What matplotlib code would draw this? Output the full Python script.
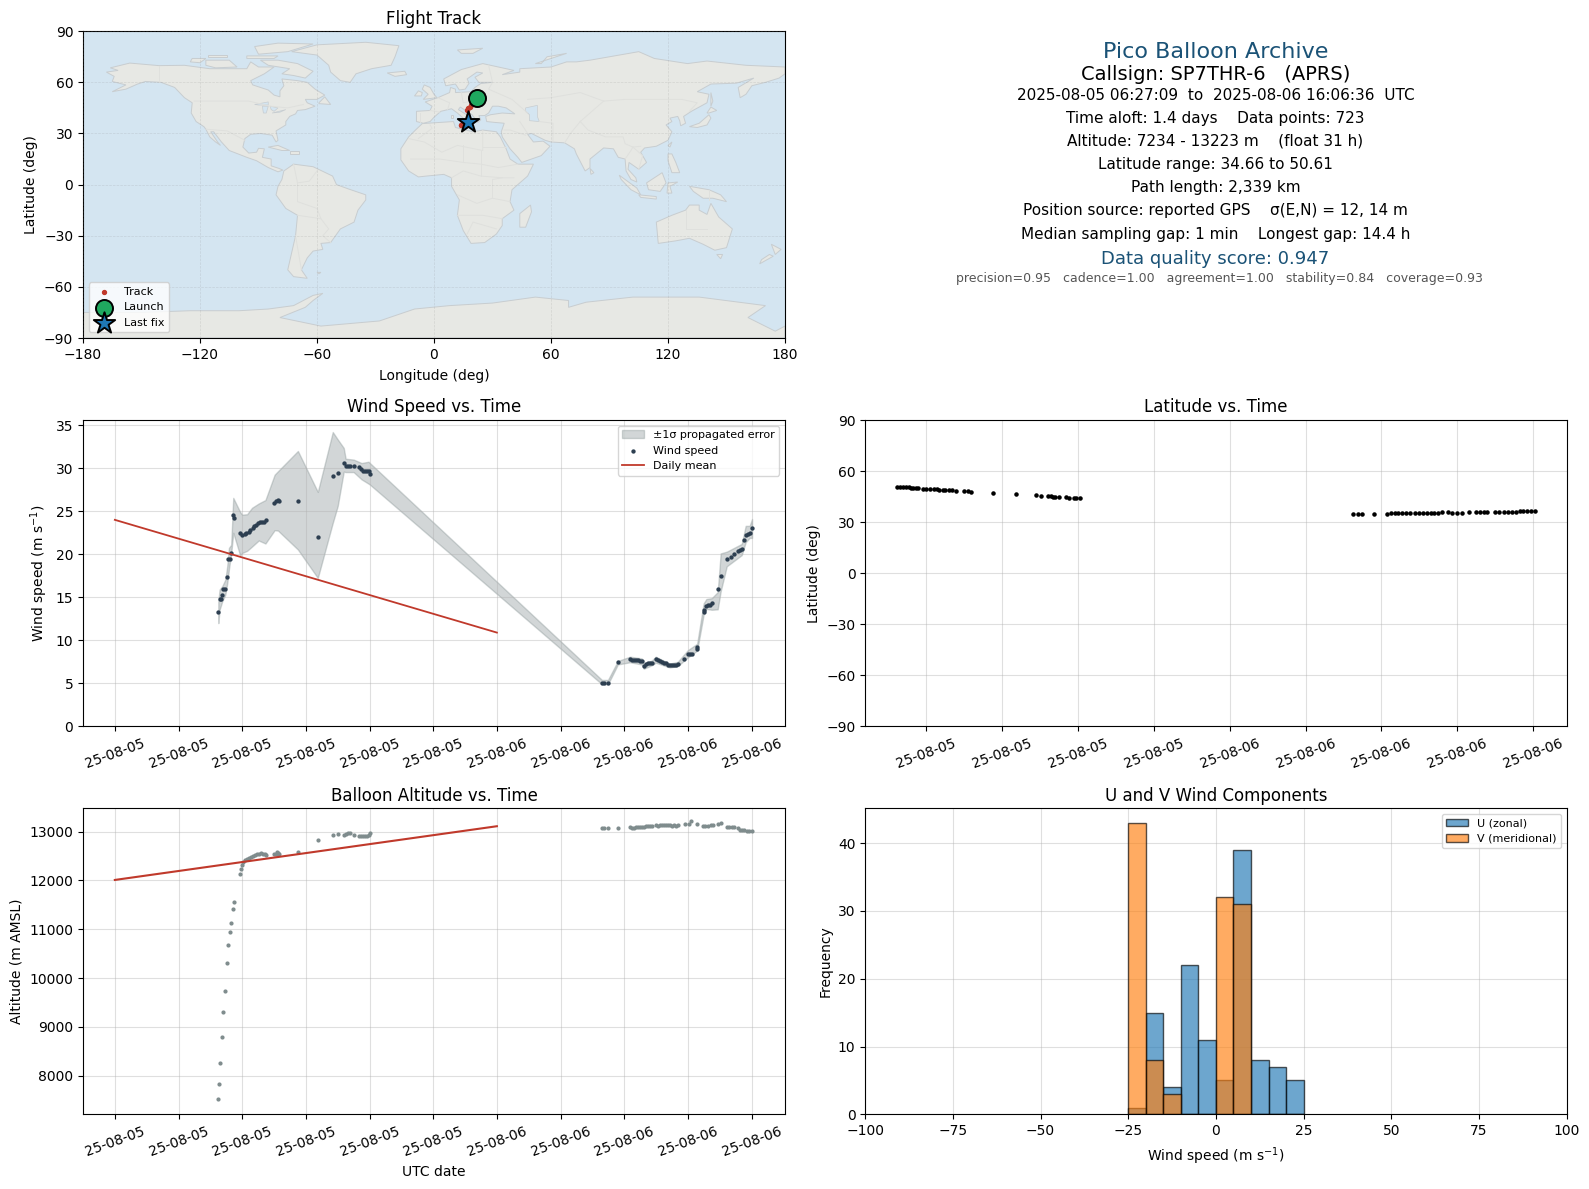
import datetime as dt
import matplotlib
matplotlib.use("Agg")
import matplotlib.pyplot as plt
import matplotlib.dates as mdates
import numpy as np

W, H = 1589, 1189
START = mdates.date2num(dt.datetime(2025, 8, 5))

# wind speed, hours after 2025-08-05 00:00 UTC
wind_hours = [6.5, 6.58, 6.65, 6.75, 6.81, 6.94, 7.06, 7.12, 7.25, 7.31, 7.44, 7.5, 7.875, 8.0, 8.15, 8.27, 8.42,
              8.52, 8.65, 8.77, 8.88, 9.0, 9.12, 9.25, 9.37, 9.5, 10.0, 10.12, 10.25, 10.33, 11.5, 12.75, 13.69,
              14.0, 14.38, 14.5, 14.62, 14.75, 15.0, 15.31, 15.44, 15.56, 15.69, 15.81, 15.94, 16.02,
              30.6, 30.73, 30.98, 31.6, 32.36, 32.48, 32.6, 32.73, 32.86, 32.98, 33.1, 33.23, 33.36, 33.48, 33.6,
              33.73, 33.98, 34.1, 34.24, 34.36, 34.49, 34.6, 34.74, 34.86, 34.99, 35.11, 35.24, 35.36, 35.74,
              35.99, 36.12, 36.24, 36.56, 36.58, 36.99, 37.02, 37.16, 37.29, 37.41, 37.5, 37.87, 38.06, 38.44,
              38.69, 38.88, 39.13, 39.25, 39.38, 39.5, 39.63, 39.75, 39.88, 40.03]
wind_speed = [13.3, 14.8, 14.8, 15.3, 16.0, 16.0, 17.4, 19.45, 19.45, 20.15, 24.6, 24.2, 22.45, 22.25, 22.4, 22.5,
              22.55, 22.8, 23.05, 23.25, 23.45, 23.65, 23.75, 23.75, 23.75, 24.0, 25.97, 26.15, 26.25, 26.2, 26.2,
              22.0, 29.1, 29.45, 30.6, 30.3, 30.27, 30.27, 30.27, 30.15, 29.95, 29.7, 29.65, 29.65, 29.65, 29.35,
              5.1, 5.1, 5.1, 7.45, 7.8, 7.7, 7.68, 7.68, 7.68, 7.65, 7.57, 7.05, 7.2, 7.33, 7.33, 7.4, 7.8, 7.72,
              7.65, 7.52, 7.4, 7.33, 7.17, 7.1, 7.1, 7.1, 7.17, 7.25, 7.8, 8.4, 8.45, 8.45, 8.95, 9.27, 13.3, 13.55,
              14.0, 14.05, 14.1, 14.3, 15.95, 17.45, 19.45, 19.65, 20.05, 20.4, 20.5, 20.6, 21.6, 22.25, 22.4, 22.45,
              23.05]
band_hours = [6.5, 6.58, 6.75, 6.94, 7.06, 7.17, 7.31, 7.44, 7.875, 8.0, 8.31, 8.62, 9.04, 9.46, 10.04, 10.25, 11.5,
              12.75, 13.69, 14.0, 14.38, 14.5, 15.0, 15.5, 15.94, 16.02, 30.6, 30.98, 31.6, 32.36, 33.1, 33.23,
              33.73, 33.98, 34.86, 35.36, 35.99, 36.58, 36.99, 37.16, 37.5, 37.87, 38.06, 38.44, 39.38, 39.63,
              39.88, 40.03]
band_hi = [14.5, 15.9, 16.3, 17.05, 18.6, 20.75, 21.1, 26.55, 24.9, 24.6, 24.65, 25.4, 25.9, 26.3, 29.25, 29.65, 32.0,
           27.25, 34.2, 33.35, 32.35, 31.1, 31.0, 30.6, 30.75, 30.6, 5.4, 5.4, 7.6, 8.1, 7.9, 7.3, 7.65, 8.1, 7.3,
           7.5, 8.85, 9.6, 14.3, 14.8, 14.9, 15.6, 20.1, 20.3, 21.2, 23.3, 23.3, 24.1]
band_lo = [12.0, 13.55, 14.55, 15.3, 16.6, 18.3, 20.1, 22.5, 19.85, 20.15, 20.4, 20.9, 21.6, 21.25, 22.8, 22.75, 20.55,
           17.25, 23.65, 25.6, 29.6, 29.55, 29.55, 28.7, 28.2, 28.1, 4.9, 4.9, 7.2, 7.45, 7.2, 6.7, 7.1, 7.4, 6.85,
           7.0, 8.0, 8.8, 13.0, 13.65, 13.55, 13.6, 15.7, 18.6, 19.9, 21.4, 21.9, 21.9]
mean_hours = [0, 24]
wind_mean = [24.0, 10.9]
alt_mean = [12010, 13110]

alt_hours = [6.5, 6.56, 6.62, 6.75, 6.81, 6.94, 7.06, 7.12, 7.25, 7.31, 7.44, 7.5, 7.875, 7.94, 8.0, 8.06, 8.19,
             8.31, 8.44, 8.56, 8.69, 8.81, 8.94, 9.06, 9.19, 9.31, 9.44, 9.5, 10.0, 10.12, 10.19, 10.25, 10.33,
             11.5, 12.75, 13.69, 14.0, 14.38, 14.5, 14.62, 14.75, 15.0, 15.31, 15.44, 15.56, 15.69, 15.81, 15.94,
             16.02, 30.6, 30.73, 30.98, 31.6, 32.36, 32.48, 32.6, 32.73, 32.86, 32.98, 33.1, 33.23, 33.36, 33.48,
             33.6, 33.73, 33.98, 34.1, 34.24, 34.36, 34.49, 34.6, 34.74, 34.86, 34.99, 35.11, 35.24, 35.36, 35.81,
             36.04, 36.2, 36.56, 36.92, 37.08, 37.25, 37.42, 37.6, 37.92, 38.08, 38.44, 38.58, 38.75, 38.92, 39.13,
             39.25, 39.38, 39.54, 39.69, 39.85, 40.03]
altitude = [7529, 7836, 8266, 8800, 9311, 9742, 10316, 10684, 10951, 11135, 11422, 11566, 12139, 12242, 12317, 12372,
            12413, 12440, 12460, 12481, 12501, 12522, 12542, 12549, 12556, 12549, 12536, 12522, 12542, 12549, 12590,
            12563, 12536, 12577, 12836, 12939, 12959, 12939, 12959, 12966, 12966, 12939, 12918, 12918, 12918, 12918,
            12918, 12939, 12966, 13082, 13082, 13082, 13082, 13095, 13075, 13080, 13085, 13090, 13095, 13100, 13095,
            13105, 13110, 13105, 13110, 13125, 13120, 13125, 13135, 13125, 13140, 13135, 13125, 13120, 13125, 13120,
            13125, 13160, 13157, 13219, 13150, 13123, 13123, 13123, 13130, 13130, 13157, 13178, 13102, 13102, 13102,
            13095, 13075, 13040, 13027, 13040, 13020, 13020, 13014]

lat_hours = [6.47, 6.6, 6.75, 6.9, 7.09, 7.18, 7.3, 7.45, 7.56, 7.84, 8.0, 8.2, 8.4, 8.58, 8.67, 8.85, 9.0, 9.2, 9.35,
             9.54, 9.98, 10.19, 10.37, 11.5, 12.75, 13.77, 14.03, 14.4, 14.55, 14.7, 14.8, 15.0, 15.35, 15.5, 15.77,
             15.9, 16.1,
             30.5, 30.75, 31.0, 31.6, 32.3, 32.5, 32.7, 32.9, 33.1, 33.3, 33.5, 33.8, 34.0, 34.2, 34.4, 34.6, 34.8,
             35.0, 35.2, 35.5, 35.75, 36.0, 36.25, 36.6, 37.0, 37.2, 37.4, 37.6, 38.0, 38.2, 38.45, 38.7, 38.9, 39.1,
             39.3, 39.5, 39.7, 39.9, 40.1]
latitude = [50.6, 50.6, 50.6, 50.5, 50.4, 50.0, 50.0, 50.0, 50.0, 49.4, 49.4, 49.4, 49.3, 49.2, 48.7, 48.7, 48.6,
            48.6, 48.6, 48.4, 48.2, 48.2, 47.5, 47.1, 46.5, 45.9, 45.3, 45.1, 45.1, 45.0, 44.7, 44.5, 44.7, 44.3,
            44.1, 44.1, 44.0,
            34.9, 34.9, 34.9, 34.9, 34.9, 35.1, 35.2, 35.3, 35.3, 35.4, 35.4, 35.6, 35.6, 35.6, 35.6, 35.6, 35.6,
            35.6, 35.7, 35.7, 35.6, 35.6, 35.5, 36.1, 35.9, 35.9, 35.9, 35.9, 35.9, 35.9, 35.9, 36.1, 36.2, 36.2,
            36.3, 36.5, 36.6, 36.6, 36.6]

track_lon = [22.3, 21.5, 20.6, 19.8, 19.0, 18.3, 17.6, 17.0, 13.8, 13.9, 14.2, 14.6, 15.0, 15.6, 16.2, 16.8, 17.3]
track_lat = [50.6, 49.4, 48.6, 47.5, 46.5, 45.6, 44.7, 44.0, 34.7, 34.9, 35.1, 35.4, 35.6, 35.7, 36.0, 36.3, 36.6]
launch_pos = (22.3, 50.6)
last_fix_pos = (17.3, 36.6)

bin_edges = [-25, -20, -15, -10, -5, 0, 5, 10, 15, 20, 25]
u_counts = [1, 15, 4, 22, 11, 5, 39, 8, 7, 5]
v_counts = [43, 8, 3, 0, 0, 32, 31, 0, 0, 0]

# coarse coastlines, lon/lat
NORTH_AMERICA = [(-168, 66), (-162, 67), (-166, 68.5), (-156, 71.3), (-141, 69.8), (-128, 70), (-115, 68), (-108, 68),
                 (-96, 68), (-94, 72), (-90, 69), (-82, 69), (-87, 65), (-94, 61), (-93, 58.5), (-85, 55.5),
                 (-82, 52.5), (-79, 51.5), (-79, 55), (-77, 58), (-78, 62), (-70, 61), (-65, 60), (-61, 56),
                 (-56, 52.5), (-60, 50), (-66, 50), (-65, 48), (-61, 46), (-66, 44), (-70, 43.5), (-71, 41.5),
                 (-74, 40), (-76, 37), (-76, 35), (-81, 31.5), (-80, 26), (-81, 25), (-83, 29), (-89, 30),
                 (-94, 29.5), (-97, 27), (-98, 22), (-95, 18.5), (-91, 19), (-90, 21.3), (-87, 21), (-88, 16),
                 (-83.5, 15), (-83.5, 11), (-79.5, 9.5), (-77.5, 8.5), (-80, 7.5), (-85, 10), (-91, 14), (-96, 16),
                 (-105, 20), (-109, 25), (-113, 31), (-114.5, 31), (-111, 25), (-109.5, 23), (-112, 25), (-115, 28),
                 (-117, 32.5), (-118, 34), (-122, 37), (-124.5, 42), (-124, 48), (-128, 51), (-133, 57), (-140, 60),
                 (-148, 60.5), (-152, 59), (-158, 56), (-165, 54.5), (-158, 58.5), (-165, 60.5), (-164, 63.5)]
GREENLAND = [(-73, 78), (-60, 82), (-35, 83.5), (-18, 81.5), (-20, 75), (-22, 70), (-32, 68), (-40, 65), (-43, 60),
             (-48, 61), (-53, 66), (-54, 70), (-60, 76)]
SOUTH_AMERICA = [(-77, 8), (-72, 12), (-62, 10.5), (-52, 5), (-50, 0), (-44, -2.5), (-35, -6), (-35, -9), (-39, -15),
                 (-41, -22), (-48, -26), (-53, -34), (-58, -34.5), (-57, -38), (-62, -39), (-65, -43), (-68, -50),
                 (-65, -55), (-72, -54), (-75, -50), (-73, -40), (-71, -30), (-70, -18), (-76, -14), (-81, -6),
                 (-80, -1), (-78, 3)]
AFRICA = [(-6, 35.8), (10, 37), (11, 33.5), (20, 31), (25, 32), (32, 31), (34, 28), (37, 21), (39, 15), (43, 12),
          (51, 12), (48, 5), (40, -3), (39, -10), (41, -15), (35, -20), (35, -24), (32, -29), (26, -34), (19, -34.5),
          (15, -27), (12, -18), (13, -9), (9, -1), (9, 4), (5, 6), (-4, 5), (-8, 4.5), (-13, 8), (-17, 14.5),
          (-17, 21), (-13, 28), (-9.5, 32)]
EURASIA = [(-9, 37), (-9, 43), (-2, 43.5), (-1, 46), (-4.5, 48.5), (2, 51), (8, 54), (8.5, 57), (11, 56), (11, 54),
           (19, 54.5), (21, 57), (24, 59.3), (30, 60), (23, 60), (21, 63), (25, 65.5), (22, 66), (17, 62), (18, 59.5),
           (16, 56), (13, 55.5), (11, 59), (6, 58), (5, 62), (14, 67.5), (25, 71), (41, 67), (35, 64.5), (44, 66),
           (44, 68), (60, 69), (68, 72), (73, 72), (80, 73), (105, 78), (113, 74), (130, 71), (140, 72.5), (160, 70),
           (180, 69), (180, 65), (177, 62.5), (170, 60), (163, 58), (160, 53), (157, 51), (156, 57), (164, 62.5),
           (155, 59.5), (142, 59), (135, 54.5), (141, 53), (140, 48), (132, 43), (128, 40), (129, 36), (126.5, 34.5),
           (126, 37.5), (125, 40), (121, 39), (122, 37), (119, 35), (122, 31), (120, 26), (114, 22.5), (108, 21.5),
           (106, 19), (109, 13), (105, 9), (100, 13), (99.5, 9), (103.5, 4), (104, 1.5), (101, 3), (98.5, 8), (98, 15),
           (94.5, 16), (92, 21), (87, 21.5), (80, 15), (80, 10), (77.5, 8), (73, 18), (72, 21), (67, 24.5), (60, 25),
           (57, 26), (50, 30), (48, 29.5), (51, 25), (56, 25.5), (59.5, 22.5), (55, 17), (45, 13), (43, 16), (39, 21),
           (35, 28), (34.5, 31), (36, 36), (31, 36.5), (27, 37), (26.5, 40), (29, 41), (35, 42), (41.5, 41.5), (37, 45),
           (33, 46), (30, 46), (28, 42), (26, 40.5), (23, 40.5), (24, 38), (22.5, 36.5), (19.5, 41), (13.5, 45.5),
           (12.5, 44), (16, 41.5), (18.5, 40), (16, 38), (12, 42), (9, 44.5), (3.5, 43), (0, 39.5), (-2, 37), (-5.5, 36)]
AUSTRALIA = [(114, -22), (122, -18), (129, -15), (131, -12), (136, -12), (136, -15), (140, -17.5), (142, -11),
             (146, -19), (153, -26), (150, -37), (144, -38.5), (138, -35), (131, -31.5), (124, -33), (115, -34.5)]
ANTARCTICA = [(-180, -90), (-180, -75), (-150, -75), (-125, -74), (-100, -74), (-85, -73), (-72, -71), (-62, -65),
              (-57, -63.8), (-62, -68), (-66, -72), (-79, -78), (-58, -83), (-28, -80), (-10, -73), (8, -71),
              (30, -69.5), (52, -66), (69, -68), (69, -72), (78, -69), (102, -66), (136, -66), (170, -71), (161, -78),
              (175, -86), (180, -83), (180, -90)]
ISLANDS = [
    [(-80, 73), (-70, 71), (-62, 66.5), (-66, 62.5), (-72, 64), (-78, 65), (-74, 68), (-85, 70), (-89, 73)],
    [(-117, 73), (-105, 73), (-101, 69), (-112, 68.5), (-117, 70)],
    [(-124, 74), (-117, 74), (-120, 71.5), (-125, 72)],
    [(-90, 76.5), (-75, 78), (-62, 82.5), (-80, 83), (-92, 81)],
    [(-96, 75.5), (-80, 75.5), (-82, 74), (-96, 74)],
    [(-116, 76), (-106, 76), (-106, 75), (-116, 75)],
    [(-59, 48), (-56, 51.5), (-53, 47), (-59, 47.5)],
    [(-85, 22), (-80, 23), (-74, 20), (-78, 20)],
    [(-74, 19.5), (-69, 19.5), (-69, 18), (-74, 18)],
    [(49.5, -12), (50, -16), (47, -25), (44, -25), (44, -17)],
    [(-5, 58.5), (-2, 57), (0, 53), (1.5, 51), (-5.5, 50), (-3, 53), (-6, 56)],
    [(-10, 52), (-8, 55), (-6, 54), (-6.5, 52)],
    [(-24, 65.5), (-15, 66.5), (-14, 64.5), (-20, 63.5)],
    [(12, 79), (25, 80), (20, 77), (14, 77)],
    [(52, 71), (68, 77), (58, 75), (55, 71)],
    [(142, 54), (143, 49), (142, 46), (142, 50)],
    [(131, 34), (136, 36), (141, 41), (142, 39), (140, 35), (135, 33.5)],
    [(140, 42), (142, 45.5), (145, 43.5), (141, 42)],
    [(120, 23), (122, 25), (121, 22)],
    [(120, 18), (122, 18), (124, 13), (126, 7), (122, 7), (120, 14)],
    [(109, 1), (117, 7), (119, 1), (116, -4), (110, -3)],
    [(95, 5.5), (104, -2), (106, -6), (101, -3), (96, 3)],
    [(105, -6), (114, -7), (114, -8.5), (106, -7.5)],
    [(119.5, -5), (120, 1), (125, 1.5), (121, -1), (122, -5)],
    [(131, -1), (141, -3), (147, -6), (150, -10), (143, -8), (138, -8), (133, -4)],
    [(80, 9.5), (82, 7), (80.5, 6)],
    [(145, -41), (148, -41), (147, -43.5)],
    [(173, -35), (178, -38), (175, -41), (174, -38)],
    [(172, -41), (174, -42), (167, -46.5), (168, -44)],
    [(8.5, 41), (9.5, 41), (9.5, 39), (8.5, 39)],
    [(12.5, 38), (15.5, 38), (15, 36.7)],
    [(-60, -51.5), (-58, -51.5), (-59, -52.3)],
]
INLAND_WATER = [
    [(47, 45), (53, 46.5), (53, 40), (54, 37), (49, 37.5), (49, 41), (47, 43)],
    [(-92, 47), (-85, 48.5), (-85, 46.7), (-90, 46.7)],
    [(-88, 46), (-85, 46), (-86, 42), (-87.5, 42)],
    [(-84, 46), (-80, 45), (-82, 43), (-83.5, 44)],
    [(-83, 42), (-76, 44), (-79, 42.5)],
]
BORDERS = [
    [(-141, 69.8), (-141, 60)], [(-123, 49), (-95, 49), (-84, 46), (-75, 45), (-67, 47)],
    [(-117, 32.5), (-106, 31.5), (-97, 26)], [(-70, -18), (-58, -20), (-54, -26), (-57, -30), (-53, -34)],
    [(-71, -30), (-68, -50)], [(-72, 12), (-70, 1), (-70, -10), (-60, -14), (-58, -20)], [(-60, 8), (-64, 2), (-70, 1)],
    [(-8, 27), (-1, 33), (-2, 35)], [(-13, 27), (-5, 25), (4, 19), (12, 23), (25, 20), (25, 32)], [(25, 22), (37, 22)],
    [(-12, 15), (3, 15), (15, 13), (24, 12), (33, 10), (43, 12)], [(9, 4), (15, 8), (24, 5), (35, 4), (41, 4)],
    [(12, -6), (22, -11), (30, -8), (39, -10)], [(12, -18), (25, -18), (35, -20)], [(17, -29), (20, -22), (32, -26)],
    [(30, -8), (30, 3), (35, 4)], [(15, 23), (15, 13)], [(24, 5), (24, 20)],
    [(28, 70), (30, 60), (28, 56), (40, 50), (48, 42)], [(48, 50), (60, 51), (75, 54), (87, 49), (98, 50), (115, 50),
                                                         (127, 50), (135, 48), (131, 43)],
    [(75, 37), (80, 42), (87, 49)], [(75, 37), (79, 32), (88, 28), (97, 28), (98, 24), (102, 22), (106, 22.5)],
    [(61, 25), (61, 36), (54, 37)], [(44, 37), (48, 30)], [(36, 32), (39, 32), (47, 29)], [(75, 37), (70, 30), (67, 24.5)],
    [(98, 15), (101, 20), (102, 22)], [(105, 9), (107, 17), (102, 22)], [(2, 51), (8, 48), (7, 44)],
    [(14, 54), (15, 48), (20, 49), (24, 51), (24, 54)], [(-2, 43.5), (3, 42.5)], [(-7, 42), (-7, 37)],
    [(140, -26), (129, -26), (129, -15)], [(141, -3), (141, -9)],
]

OCEAN = "#d4e5f1"
LAND = "#e7e8e4"
COAST = "#c8cdd0"
BORDER = "#dfe0dd"
RED = "#c0392b"
NAVY = "#2c3e50"
SLATE = "#7f8c8d"
TITLE_BLUE = "#1a5276"


def add_ax(fig, left, top, right, bottom):
    return fig.add_axes([left / W, 1 - bottom / H, (right - left) / W, (bottom - top) / H])


def to_dates(hours):
    return START + np.array(hours) / 24.0


def time_axis(ax, xlim):
    ax.set_xlim(to_dates(xlim)[0], to_dates(xlim)[1])
    ax.xaxis.set_major_locator(mdates.HourLocator(byhour=range(0, 24, 4)))
    ax.xaxis.set_major_formatter(mdates.DateFormatter("%y-%m-%d"))
    ax.tick_params(axis="x", rotation=20)
    ax.grid(True, color="#b0b0b0", alpha=0.4)


fig = plt.figure(figsize=(W / 100, H / 100), dpi=100)

# map
ax = add_ax(fig, 83.0, 31.2, 785.0, 338.0)
ax.set_facecolor(OCEAN)
for poly in [NORTH_AMERICA, GREENLAND, SOUTH_AMERICA, AFRICA, EURASIA, AUSTRALIA, ANTARCTICA] + ISLANDS:
    xs, ys = zip(*poly)
    ax.fill(xs, ys, facecolor=LAND, edgecolor=COAST, linewidth=0.7, zorder=1)
for poly in INLAND_WATER:
    xs, ys = zip(*poly)
    ax.fill(xs, ys, facecolor=OCEAN, edgecolor=COAST, linewidth=0.5, zorder=1.1)
for line in BORDERS:
    xs, ys = zip(*line)
    ax.plot(xs, ys, color=BORDER, linewidth=0.7, zorder=1.2)
ax.grid(True, color="#808080", alpha=0.2, linewidth=0.5, linestyle="--", zorder=1.5)
ax.set_axisbelow(False)
ax.scatter(track_lon, track_lat, s=8, color=RED, label="Track", zorder=3)
ax.scatter(*launch_pos, s=150, color="#1fa85f", edgecolor="black", linewidth=1.4, label="Launch", zorder=4)
ax.scatter(*last_fix_pos, s=260, marker="*", color="#1f77b4", edgecolor="black", linewidth=1.4, label="Last fix", zorder=5)
ax.set_xlim(-180, 180)
ax.set_ylim(-90, 90)
ax.set_xticks(range(-180, 181, 60))
ax.set_yticks(range(-90, 91, 30))
ax.set_xlabel("Longitude (deg)", labelpad=5)
ax.set_ylabel("Latitude (deg)")
ax.set_title("Flight Track", fontsize=12, pad=5)
ax.legend(loc="lower left", fontsize=8)

# summary text
summary = [
    ("Pico Balloon Archive", 16, TITLE_BLUE, 51.7, 1215.5),
    ("Callsign: SP7THR-6   (APRS)", 14, "black", 74, 1215.5),
    ("2025-08-05 06:27:09  to  2025-08-06 16:06:36  UTC", 11, "black", 95, 1215.5),
    ("Time aloft: 1.4 days    Data points: 723", 11, "black", 118.5, 1215.5),
    ("Altitude: 7234 - 13223 m    (float 31 h)", 11, "black", 141, 1215.5),
    ("Latitude range: 34.66 to 50.61", 11, "black", 164, 1215.5),
    ("Path length: 2,339 km", 11, "black", 187.5, 1215.5),
    ("Position source: reported GPS    σ(E,N) = 12, 14 m", 11, "black", 211, 1215),
    ("Median sampling gap: 1 min    Longest gap: 14.4 h", 11, "black", 234, 1215.5),
    ("Data quality score: 0.947", 13, TITLE_BLUE, 258.5, 1215.5),
    ("precision=0.95   cadence=1.00   agreement=1.00   stability=0.84   coverage=0.93", 9, "#555555", 278.7, 1219),
]
for txt, size, col, py, px in summary:
    fig.text(px / W, 1 - py / H, txt, fontsize=size, color=col, ha="center", va="center")

# wind speed
ax = add_ax(fig, 83.0, 420.0, 785.0, 726.4)
ax.fill_between(to_dates(band_hours), band_lo, band_hi, color=SLATE, alpha=0.35, label="±1σ propagated error")
ax.scatter(to_dates(wind_hours), wind_speed, s=4.5, color=NAVY, label="Wind speed", zorder=3)
ax.plot(to_dates(mean_hours), wind_mean, color=RED, linewidth=1.3, label="Daily mean", zorder=4)
time_axis(ax, [-2.0, 42.1])
ax.set_ylim(0, 35.6)
ax.set_ylabel("Wind speed (m s$^{-1}$)")
ax.set_title("Wind Speed vs. Time", fontsize=12)
ax.legend(loc="upper right", fontsize=8)

# latitude
ax = add_ax(fig, 865.2, 420.0, 1566.7, 726.4)
ax.scatter(to_dates(lat_hours), latitude, s=5, color="black", zorder=3)
time_axis(ax, [4.77, 41.78])
ax.set_ylim(-90, 90)
ax.set_yticks(range(-90, 91, 30))
ax.set_ylabel("Latitude (deg)")
ax.set_title("Latitude vs. Time", fontsize=12)

# altitude
ax = add_ax(fig, 83.0, 808.3, 785.0, 1114.3)
ax.scatter(to_dates(alt_hours), altitude, s=4, color=SLATE, zorder=3)
ax.plot(to_dates(mean_hours), alt_mean, color=RED, linewidth=1.5, zorder=4)
time_axis(ax, [-2.0, 42.1])
ax.set_ylim(7212, 13477)
ax.set_xlabel("UTC date", labelpad=5)
ax.set_ylabel("Altitude (m AMSL)")
ax.set_title("Balloon Altitude vs. Time", fontsize=12, pad=5)

# wind components
ax = add_ax(fig, 865.2, 808.3, 1566.7, 1114.3)
left_edges = bin_edges[:-1]
ax.bar(left_edges, u_counts, width=5, align="edge", color="C0", alpha=0.65, edgecolor="black", label="U (zonal)")
ax.bar(left_edges, v_counts, width=5, align="edge", color="C1", alpha=0.65, edgecolor="black", label="V (meridional)")
ax.set_xlim(-100, 100)
ax.set_ylim(0, 45.15)
ax.set_xticks(range(-100, 101, 25))
ax.set_yticks(range(0, 41, 10))
ax.set_axisbelow(True)
ax.grid(True, color="#b0b0b0", alpha=0.4)
ax.set_xlabel("Wind speed (m s$^{-1}$)", labelpad=5)
ax.set_ylabel("Frequency")
ax.set_title("U and V Wind Components", fontsize=12, pad=5)
ax.legend(loc="upper right", fontsize=8)

fig.savefig("out.png", dpi=100)
